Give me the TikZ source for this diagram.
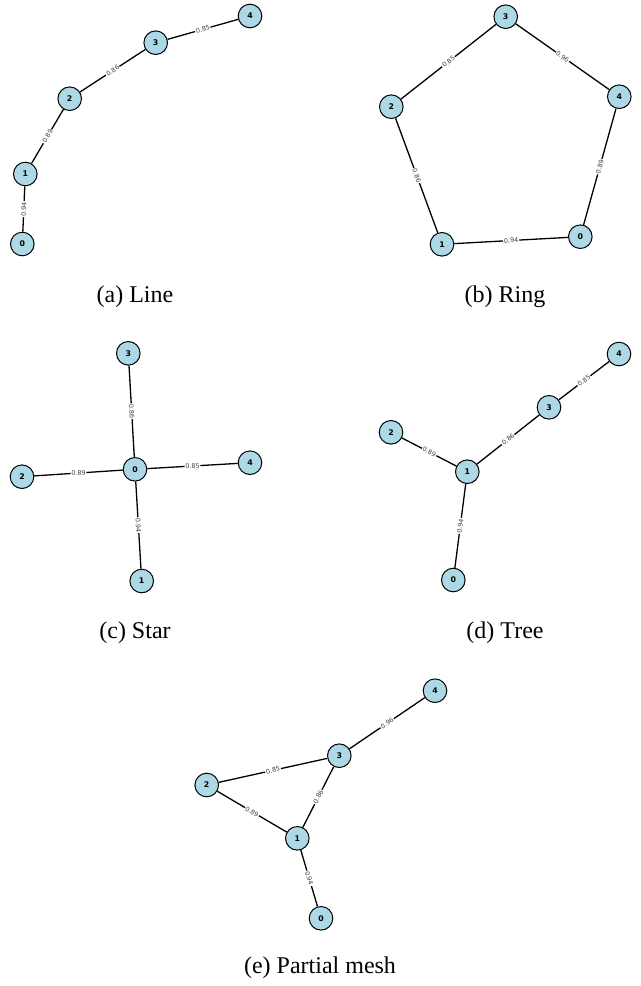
\documentclass[tikz,border=0pt]{standalone}
\usepackage{fontspec}
\setmainfont{Liberation Serif}
\newfontfamily\nodefont{DejaVu Sans}
\definecolor{nodeblue}{HTML}{ADD8E6}
\begin{document}
\begin{tikzpicture}[x=0.5pt,y=-0.5pt,
  nd/.style={circle,draw=black,line width=0.5pt,fill=nodeblue,minimum size=11.8pt,inner sep=0pt,
    font=\nodefont\fontsize{3.9}{4.2}\selectfont\bfseries},
  ed/.style={draw=black,line width=0.65pt},
  el/.style={sloped,fill=white,inner sep=0.4pt,text=black!75,font=\nodefont\fontsize{3.2}{3.6}\selectfont},
  captext/.style={font=\fontsize{12}{14}\selectfont}]
\useasboundingbox (0,0) rectangle (641,986);
% (a) Line
\node[nd] (a4) at (250,16) {4};
\node[nd] (a3) at (155.7,42.7) {3};
\node[nd] (a2) at (69.7,98.7) {2};
\node[nd] (a1) at (25.3,174) {1};
\node[nd] (a0) at (22.3,244) {0};
\path[ed] (a1) -- node[el]{0.94} (a0);
\path[ed] (a2) -- node[el]{0.89} (a1);
\path[ed] (a3) -- node[el]{0.86} (a2);
\path[ed] (a4) -- node[el]{0.85} (a3);
\node[captext] (capa) at (135,297) {(a) Line};
% (b) Ring
\node[nd] (b3) at (505.7,16.7) {3};
\node[nd] (b2) at (391.3,106.7) {2};
\node[nd] (b4) at (619.3,96.7) {4};
\node[nd] (b1) at (442,244.3) {1};
\node[nd] (b0) at (580.3,236.7) {0};
\path[ed] (b2) -- node[el]{0.85} (b3);
\path[ed] (b3) -- node[el]{0.96} (b4);
\path[ed] (b4) -- node[el]{0.89} (b0);
\path[ed] (b2) -- node[el]{0.86} (b1);
\path[ed] (b1) -- node[el]{0.94} (b0);
\node[captext] (capb) at (505,297) {(b) Ring};
% (c) Star
\node[nd] (c3) at (128.3,353.3) {3};
\node[nd] (c0) at (135,469.3) {0};
\node[nd] (c2) at (22,476.7) {2};
\node[nd] (c4) at (250,462.7) {4};
\node[nd] (c1) at (141.7,581) {1};
\path[ed] (c3) -- node[el]{0.86} (c0);
\path[ed] (c2) -- node[el]{0.89} (c0);
\path[ed] (c0) -- node[el]{0.85} (c4);
\path[ed] (c0) -- node[el]{0.94} (c1);
\node[captext] (capc) at (135,633) {(c) Star};
% (d) Tree
\node[nd] (d4) at (619,354) {4};
\node[nd] (d3) at (549,407.3) {3};
\node[nd] (d2) at (391,432.3) {2};
\node[nd] (d1) at (467.3,471.7) {1};
\node[nd] (d0) at (453.3,580) {0};
\path[ed] (d3) -- node[el]{0.85} (d4);
\path[ed] (d1) -- node[el]{0.86} (d3);
\path[ed] (d2) -- node[el]{0.89} (d1);
\path[ed] (d1) -- node[el]{0.94} (d0);
\node[captext] (capd) at (505,633) {(d) Tree};
% (e) Partial mesh
\node[nd] (e4) at (435,690.7) {4};
\node[nd] (e3) at (339.3,755.7) {3};
\node[nd] (e2) at (206.7,785) {2};
\node[nd] (e1) at (297.3,838.3) {1};
\node[nd] (e0) at (321,918.3) {0};
\path[ed] (e3) -- node[el]{0.96} (e4);
\path[ed] (e2) -- node[el]{0.85} (e3);
\path[ed] (e1) -- node[el]{0.86} (e3);
\path[ed] (e2) -- node[el]{0.89} (e1);
\path[ed] (e1) -- node[el]{0.94} (e0);
\node[captext] (cape) at (320,968) {(e) Partial mesh};
\end{tikzpicture}
\end{document}
